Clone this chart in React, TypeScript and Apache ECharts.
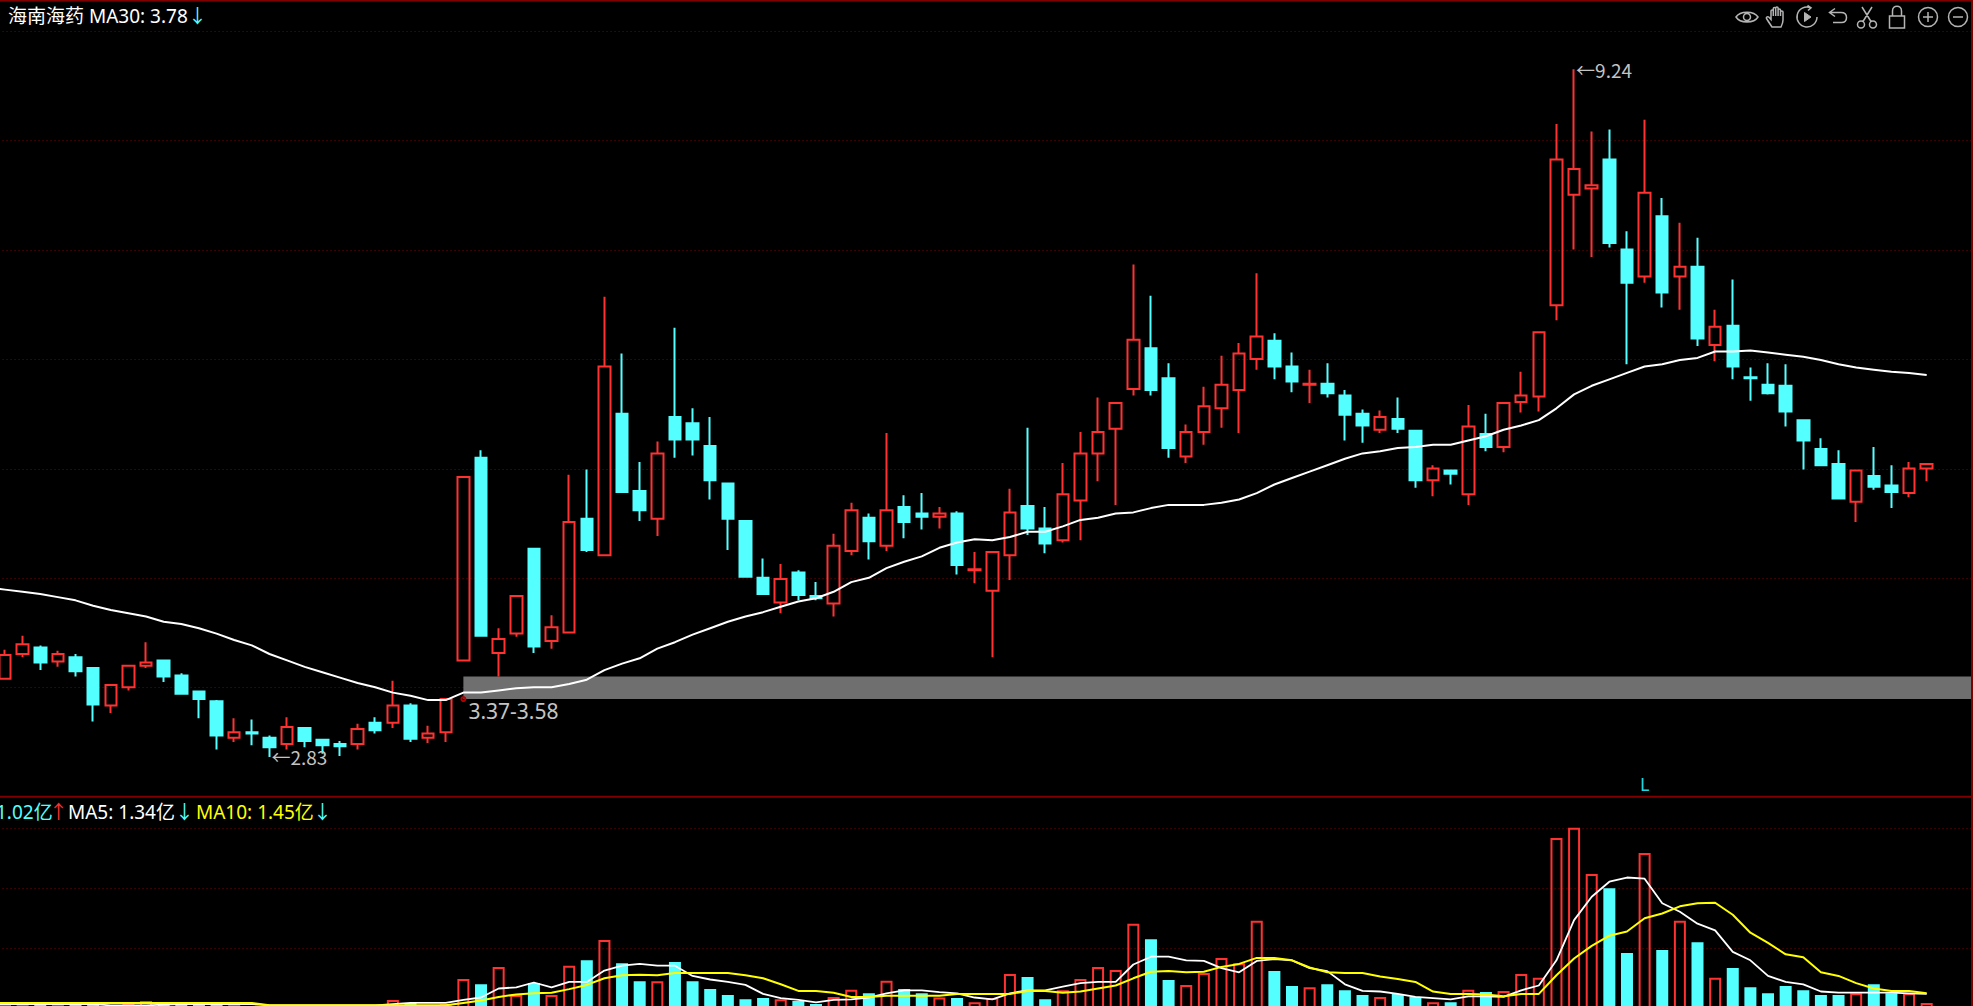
import React, { useEffect, useRef } from "react";
import * as echarts from "echarts";

// [open, close, low, high]
const candles: number[][] = [
  [3.56,3.78,3.55,3.83],[3.79,3.88,3.76,3.96],[3.85,3.71,3.64,3.87],[3.72,3.79,3.67,3.82],[3.76,3.63,3.58,3.79],
  [3.66,3.32,3.16,3.66],[3.31,3.50,3.24,3.50],[3.48,3.68,3.45,3.69],[3.68,3.71,3.66,3.90],[3.73,3.58,3.53,3.73],
  [3.59,3.42,3.41,3.61],[3.44,3.37,3.19,3.44],[3.35,3.03,2.90,3.36],[3.01,3.06,2.97,3.19],[3.06,3.05,2.94,3.18],
  [3.01,2.92,2.83,3.03],[2.95,3.11,2.90,3.20],[3.10,2.98,2.92,3.10],[2.99,2.94,2.86,2.99],[2.95,2.93,2.84,2.98],
  [2.95,3.09,2.90,3.14],[3.15,3.08,3.05,3.20],[3.15,3.31,3.10,3.54],[3.31,3.00,2.97,3.33],[3.01,3.05,2.96,3.12],
  [3.06,3.37,2.97,3.38],[3.73,5.44,3.72,5.45],[5.62,3.96,3.95,5.69],[3.80,3.93,3.58,4.03],[3.98,4.33,3.95,4.33],
  [4.77,3.86,3.80,4.77],[3.91,4.04,3.84,4.15],[3.99,5.02,3.98,5.46],[5.05,4.76,4.74,5.51],[4.71,6.47,4.70,7.12],
  [6.03,5.30,5.29,6.59],[5.31,5.13,5.03,5.58],[5.05,5.66,4.89,5.77],[6.00,5.79,5.62,6.83],[5.94,5.79,5.64,6.08],
  [5.73,5.41,5.23,6.00],[5.38,5.05,4.76,5.38],[5.03,4.51,4.50,5.03],[4.50,4.35,4.34,4.68],[4.27,4.49,4.17,4.63],
  [4.55,4.34,4.29,4.57],[4.33,4.31,4.29,4.46],[4.26,4.80,4.14,4.91],[4.75,5.13,4.71,5.20],[5.06,4.84,4.67,5.10],
  [4.80,5.13,4.75,5.85],[5.16,5.02,4.87,5.27],[5.10,5.07,4.95,5.29],[5.07,5.10,4.96,5.16],[5.10,4.62,4.53,5.12],
  [4.57,4.58,4.45,4.74],[4.38,4.74,3.76,4.74],[4.71,5.11,4.48,5.33],[5.17,4.96,4.90,5.90],[4.96,4.82,4.73,5.16],
  [4.85,5.28,4.83,5.57],[5.22,5.66,4.85,5.86],[5.66,5.86,5.40,6.18],[5.89,6.13,5.18,6.13],[6.26,6.72,6.20,7.42],
  [6.64,6.25,6.20,7.13],[6.36,5.71,5.62,6.50],[5.63,5.86,5.57,5.93],[5.86,6.10,5.74,6.28],[6.08,6.30,5.90,6.57],
  [6.25,6.59,5.85,6.69],[6.54,6.75,6.44,7.34],[6.71,6.47,6.35,6.78],[6.47,6.33,6.23,6.60],[6.30,6.31,6.13,6.44],
  [6.31,6.22,6.18,6.50],[6.20,6.02,5.78,6.25],[6.03,5.92,5.76,6.07],[5.88,6.00,5.85,6.06],[5.98,5.89,5.85,6.18],
  [5.87,5.41,5.34,5.87],[5.41,5.52,5.26,5.55],[5.50,5.47,5.37,5.51],[5.28,5.91,5.18,6.11],[5.84,5.72,5.68,6.03],
  [5.72,6.13,5.67,6.13],[6.14,6.20,6.04,6.42],[6.19,6.79,6.05,6.79],[7.04,8.40,6.90,8.73],[8.07,8.31,7.56,9.24],
  [8.13,8.16,7.49,8.66],[8.40,7.62,7.58,8.68],[7.56,7.25,6.49,7.73],[7.31,8.09,7.25,8.77],[7.87,7.16,7.02,8.04],
  [7.31,7.40,7.00,7.81],[7.40,6.73,6.66,7.67],[6.67,6.84,6.52,7.00],[6.85,6.47,6.35,7.28],[6.37,6.36,6.15,6.46],
  [6.30,6.22,6.21,6.50],[6.29,6.05,5.91,6.49],[5.97,5.78,5.51,5.97],[5.70,5.55,5.54,5.80],[5.56,5.24,5.23,5.69],
  [5.21,5.50,5.02,5.51],[5.45,5.35,5.32,5.72],[5.36,5.30,5.15,5.55],[5.29,5.52,5.25,5.58],[5.52,5.56,5.40,5.56],
];

// The moving averages start one session before the first candle, just off the left edge.
const ma30: number[] = [
  4.41,
  4.39,4.37,4.35,4.32,4.29,4.24,4.20,4.17,4.14,4.09,4.07,4.03,3.98,3.92,3.87,3.79,3.73,3.67,3.62,3.57,
  3.52,3.48,3.43,3.40,3.36,3.36,3.43,3.43,3.45,3.47,3.48,3.48,3.51,3.55,3.64,3.70,3.75,3.84,3.90,3.97,
  4.03,4.09,4.14,4.18,4.23,4.28,4.31,4.37,4.46,4.50,4.59,4.65,4.70,4.78,4.83,4.86,4.85,4.88,4.93,4.93,
  4.98,5.04,5.06,5.10,5.11,5.15,5.18,5.18,5.18,5.20,5.23,5.29,5.37,5.43,5.49,5.55,5.61,5.66,5.68,5.71,
  5.72,5.74,5.74,5.78,5.82,5.88,5.92,5.97,6.08,6.21,6.29,6.35,6.41,6.47,6.49,6.53,6.55,6.61,6.61,6.62,
  6.60,6.58,6.56,6.53,6.49,6.46,6.44,6.42,6.41,6.39,
];

// traded value, 亿
const volume: number[] = [
  1.07,1.07,1.08,1.07,1.08,1.07,1.05,1.07,1.12,1.08,1.08,1.08,1.08,1.07,1.04,0.95,0.98,0.98,0.95,0.96,
  0.98,1.00,1.14,1.09,1.00,1.07,1.49,1.40,1.69,1.22,1.42,1.22,1.71,1.80,2.14,1.75,1.45,1.45,1.77,1.45,
  1.32,1.22,1.15,1.17,1.15,1.12,1.07,1.19,1.31,1.25,1.46,1.32,1.25,1.18,1.17,1.10,1.17,1.57,1.52,1.15,
  1.30,1.49,1.69,1.64,2.41,2.15,1.47,1.39,1.59,1.84,1.75,2.46,1.62,1.37,1.35,1.40,1.30,1.22,1.19,1.24,
  1.19,1.10,1.10,1.31,1.27,1.29,1.57,1.51,3.84,4.01,3.24,3.00,1.92,3.59,1.97,2.46,2.10,1.51,1.67,1.35,
  1.25,1.37,1.30,1.22,1.22,1.25,1.40,1.25,1.25,1.09,
];

const volMa5: number[] = [
  1.07,
  1.07,1.07,1.07,1.07,1.07,1.07,1.05,1.05,1.05,1.06,1.07,1.07,1.07,1.07,1.07,1.05,1.05,1.05,1.05,1.05,
  1.05,1.05,1.07,1.09,1.09,1.09,1.14,1.18,1.33,1.35,1.43,1.35,1.44,1.44,1.63,1.71,1.74,1.71,1.71,1.54,
  1.48,1.44,1.39,1.24,1.17,1.14,1.10,1.14,1.15,1.18,1.25,1.30,1.30,1.27,1.25,1.18,1.15,1.25,1.30,1.30,
  1.36,1.42,1.44,1.44,1.73,1.86,1.86,1.80,1.79,1.67,1.60,1.79,1.82,1.80,1.67,1.62,1.40,1.29,1.28,1.24,
  1.19,1.17,1.15,1.20,1.20,1.19,1.30,1.38,1.80,2.47,2.86,3.11,3.18,3.16,2.75,2.61,2.41,2.30,1.94,1.80,
  1.54,1.44,1.40,1.28,1.26,1.26,1.26,1.26,1.25,1.24,
];

const volMa10: number[] = [
  1.09,
  1.09,1.09,1.09,1.09,1.09,1.09,1.09,1.09,1.09,1.09,1.09,1.09,1.09,1.09,1.09,1.05,1.05,1.05,1.05,1.05,
  1.05,1.05,1.05,1.05,1.05,1.05,1.09,1.13,1.19,1.23,1.25,1.26,1.32,1.39,1.50,1.55,1.56,1.55,1.59,1.59,
  1.59,1.59,1.55,1.50,1.40,1.29,1.29,1.26,1.19,1.19,1.21,1.21,1.21,1.21,1.24,1.24,1.24,1.24,1.29,1.29,
  1.26,1.28,1.33,1.38,1.50,1.61,1.62,1.60,1.61,1.69,1.74,1.84,1.84,1.80,1.68,1.60,1.59,1.59,1.53,1.49,
  1.44,1.28,1.24,1.24,1.23,1.20,1.24,1.24,1.55,1.83,2.04,2.21,2.28,2.50,2.58,2.70,2.75,2.76,2.56,2.26,
  2.09,1.90,1.85,1.60,1.54,1.42,1.33,1.29,1.29,1.25,
];

// One empty slot on the left (off-window) and three on the right let the lines and band run to the edges.
const categories: string[] = Array.from({ length: candles.length + 4 }, (_, i) => `K${i}`);

const bandLow = 3.37;
const bandHigh = 3.58;
const highPoint = { index: 90, price: 9.24 };
const lowPoint = { index: 16, price: 2.83 };
const bandStart = 27;

const RED = "#ff3232";
const CYAN = "#54ffff";
const YELLOW = "#ffff00";
const WHITE = "#ffffff";
const FRAME = "#800000";
const GRID = "#7a0000";
const NOTE = "#c4c4c4";
const ICON = "#b4b4b4";
const FONT = '"Noto Sans","Noto Sans CJK SC",sans-serif';
const NOTE_FONT = '"Noto Sans CJK SC",sans-serif';

const icons: Record<string, string> = {
  eye: "M1 12C5 5.5 19 5.5 23 12C19 18.5 5 18.5 1 12Z M8.5 12A3.5 3.5 0 1 1 15.5 12A3.5 3.5 0 1 1 8.5 12Z",
  hand: "M7 22C5 19 3 16 1.5 13.5C1 12 2.7 11 4 12.3L6 14.5V6C6 4.5 8.3 4.5 8.3 6V11V3.5C8.3 2 10.7 2 10.7 3.5V11V3C10.7 1.5 13.1 1.5 13.1 3V11V5C13.1 3.5 15.5 3.5 15.5 5V11V7C15.5 5.5 18 5.5 18 7V15C18 18 17 20 16 22Z",
  play: "M15.5 2.6A10 10 0 1 0 22 12 M12.5 0.5L16 2.8L13 5.5",
  undo: "M10 3.5L4.5 7.5L10 11.5 M4.5 7.5H16C20 7.5 21.5 10 21.5 12.5C21.5 15.5 19.5 17.5 16.5 17.5H8",
  scissors: "M2.5 19.5A3.5 3.5 0 1 1 9.5 19.5A3.5 3.5 0 1 1 2.5 19.5Z M14.5 19.5A3.5 3.5 0 1 1 21.5 19.5A3.5 3.5 0 1 1 14.5 19.5Z M8 16.5L17 2 M16 16.5L7 2",
  lock: "M4.5 11H19.5V23H4.5Z M7.5 11V6C7.5 -0.5 16.5 -0.5 16.5 6V11",
  plus: "M2.5 12A9.5 9.5 0 1 1 21.5 12A9.5 9.5 0 1 1 2.5 12Z M12 7V17 M7 12H17",
  minus: "M2.5 12A9.5 9.5 0 1 1 21.5 12A9.5 9.5 0 1 1 2.5 12Z M7 12H17",
  tri: "M9.5 7.5L16 12L9.5 16.5Z",
};
Object.keys(icons).forEach((k) => {
  echarts.graphic.registerShape("icon_" + k, echarts.graphic.extendPath(icons[k], {}));
});

const toolbar: [string, number][] = [
  ["eye", 1747], ["hand", 1777], ["play", 1807], ["undo", 1837],
  ["scissors", 1867], ["lock", 1897], ["plus", 1928], ["minus", 1958],
];

function label(text: string, x: number, y: number, fill: string, fontSize = 19): any {
  return {
    type: "text",
    x,
    y,
    z: 50,
    silent: true,
    style: { text, fill, font: `${fontSize}px ${FONT}`, verticalAlign: "middle", align: "left" },
  };
}

function note(index: number, price: number, text: string): any {
  return {
    coord: [index, price],
    symbol: "circle",
    symbolSize: 0,
    label: {
      show: true,
      position: "right",
      distance: 2,
      formatter: text,
      color: NOTE,
      fontSize: 19,
      fontFamily: NOTE_FONT,
    },
  };
}

export default function App() {
  const ref = useRef<HTMLDivElement | null>(null);

  useEffect(() => {
    const chart = echarts.init(ref.current!, null, { renderer: "svg" });

    const rule = {
      show: true,
      showMinLine: false,
      showMaxLine: false,
      lineStyle: { color: GRID, width: 1, type: [1, 3] as number[] },
    };
    const volumeData = volume.map((v, i) => {
      const up = candles[i][1] >= candles[i][0];
      return {
        value: v,
        itemStyle: up
          ? { color: "transparent", borderColor: RED, borderWidth: 2 }
          : { color: CYAN, borderColor: CYAN, borderWidth: 2 },
      };
    });

    chart.setOption({
      animation: false,
      backgroundColor: "#000000",
      grid: [
        { left: -21.445, right: -15.4, top: 1, bottom: 208.9, outerBoundsMode: "none" },
        { left: -21.445, right: -15.4, top: 797, bottom: -62.3, outerBoundsMode: "none" },
      ],
      xAxis: [
        { type: "category", gridIndex: 0, data: categories, show: false, boundaryGap: true },
        { type: "category", gridIndex: 1, data: categories, show: false, boundaryGap: true },
      ],
      yAxis: [
        { type: "value", gridIndex: 0, min: 2.456, max: 9.877, show: false, scale: true },
        {
          type: "value",
          gridIndex: 0,
          min: 0,
          max: 7.276,
          interval: 1,
          axisLine: { show: false },
          axisTick: { show: false },
          axisLabel: { show: false },
          splitLine: rule,
        },
        {
          type: "value",
          gridIndex: 1,
          min: 0,
          max: 4.522,
          interval: 1,
          axisLine: { show: false },
          axisTick: { show: false },
          axisLabel: { show: false },
          splitLine: rule,
        },
      ],
      series: [
        {
          name: "K",
          type: "candlestick",
          xAxisIndex: 0,
          yAxisIndex: 0,
          data: [["-", "-", "-", "-"], ...candles],
          barWidth: 12,
          itemStyle: {
            color: "transparent",
            color0: CYAN,
            borderColor: RED,
            borderColor0: CYAN,
            borderWidth: 2,
          },
        },
        {
          name: "MA30",
          type: "line",
          xAxisIndex: 0,
          yAxisIndex: 0,
          data: ma30,
          symbol: "none",
          z: 5,
          lineStyle: { color: WHITE, width: 2 },
          markArea: {
            silent: true,
            z: 1,
            itemStyle: { color: "#6f6f6f" },
            data: [[{ xAxis: bandStart, yAxis: bandHigh }, { xAxis: categories.length - 1, yAxis: bandLow }]],
          },
          markPoint: {
            silent: true,
            z: 6,
            data: [
              note(highPoint.index, highPoint.price, `←${highPoint.price}`),
              note(lowPoint.index, lowPoint.price, `←${lowPoint.price}`),
              {
                coord: [bandStart, bandLow],
                symbol: "circle",
                symbolSize: 4,
                itemStyle: { color: "transparent", borderColor: "#b00000", borderWidth: 2 },
                label: {
                  show: true,
                  position: "right",
                  distance: 2,
                  offset: [0, 12],
                  formatter: `${bandLow}-${bandHigh}`,
                  color: NOTE,
                  fontSize: 21,
                  fontFamily: FONT,
                },
              },
            ],
          },
        },
        {
          name: "VOL",
          type: "bar",
          xAxisIndex: 1,
          yAxisIndex: 2,
          data: ["-", ...volumeData],
          barWidth: 12,
        },
        {
          name: "MA5",
          type: "line",
          xAxisIndex: 1,
          yAxisIndex: 2,
          data: volMa5,
          symbol: "none",
          z: 5,
          lineStyle: { color: WHITE, width: 1.8 },
        },
        {
          name: "MA10",
          type: "line",
          xAxisIndex: 1,
          yAxisIndex: 2,
          data: volMa10,
          symbol: "none",
          z: 6,
          lineStyle: { color: YELLOW, width: 2 },
        },
      ],
      graphic: [
        { type: "rect", z: 40, silent: true, shape: { x: 0, y: 0, width: 1973, height: 1.5 }, style: { fill: FRAME } },
        { type: "rect", z: 40, silent: true, shape: { x: 0, y: 795.8, width: 1973, height: 2 }, style: { fill: FRAME } },
        { type: "rect", z: 40, silent: true, shape: { x: 1971, y: 0, width: 2, height: 1006 }, style: { fill: FRAME } },
        label("海南海药 MA30: 3.78", 8, 16, WHITE),
        label("↓", 188, 16, CYAN),
        label("1.02亿", -4, 812, CYAN),
        label("↑", 49, 812, RED),
        label("MA5: 1.34亿", 68, 812, WHITE),
        label("↓", 175, 812, CYAN),
        label("MA10: 1.45亿", 196, 812, YELLOW),
        label("↓", 313, 812, CYAN),
        label("L", 1640, 784, "#1fd6e6", 18),
        ...toolbar.map(([name, cx]) => ({
          type: "icon_" + name,
          x: cx - 12,
          y: 5,
          z: 45,
          silent: true,
          style: { fill: "none", stroke: ICON, lineWidth: 1.5 },
        })),
        { type: "icon_tri", x: 1807 - 12, y: 5, z: 45, silent: true, style: { fill: ICON, stroke: ICON, lineWidth: 1 } },
      ],
    });

    return () => chart.dispose();
  }, []);

  return (
    <div
      ref={ref}
      style={{ position: "fixed", left: 0, top: 0, width: 1973, height: 1006, background: "#000" }}
    />
  );
}
